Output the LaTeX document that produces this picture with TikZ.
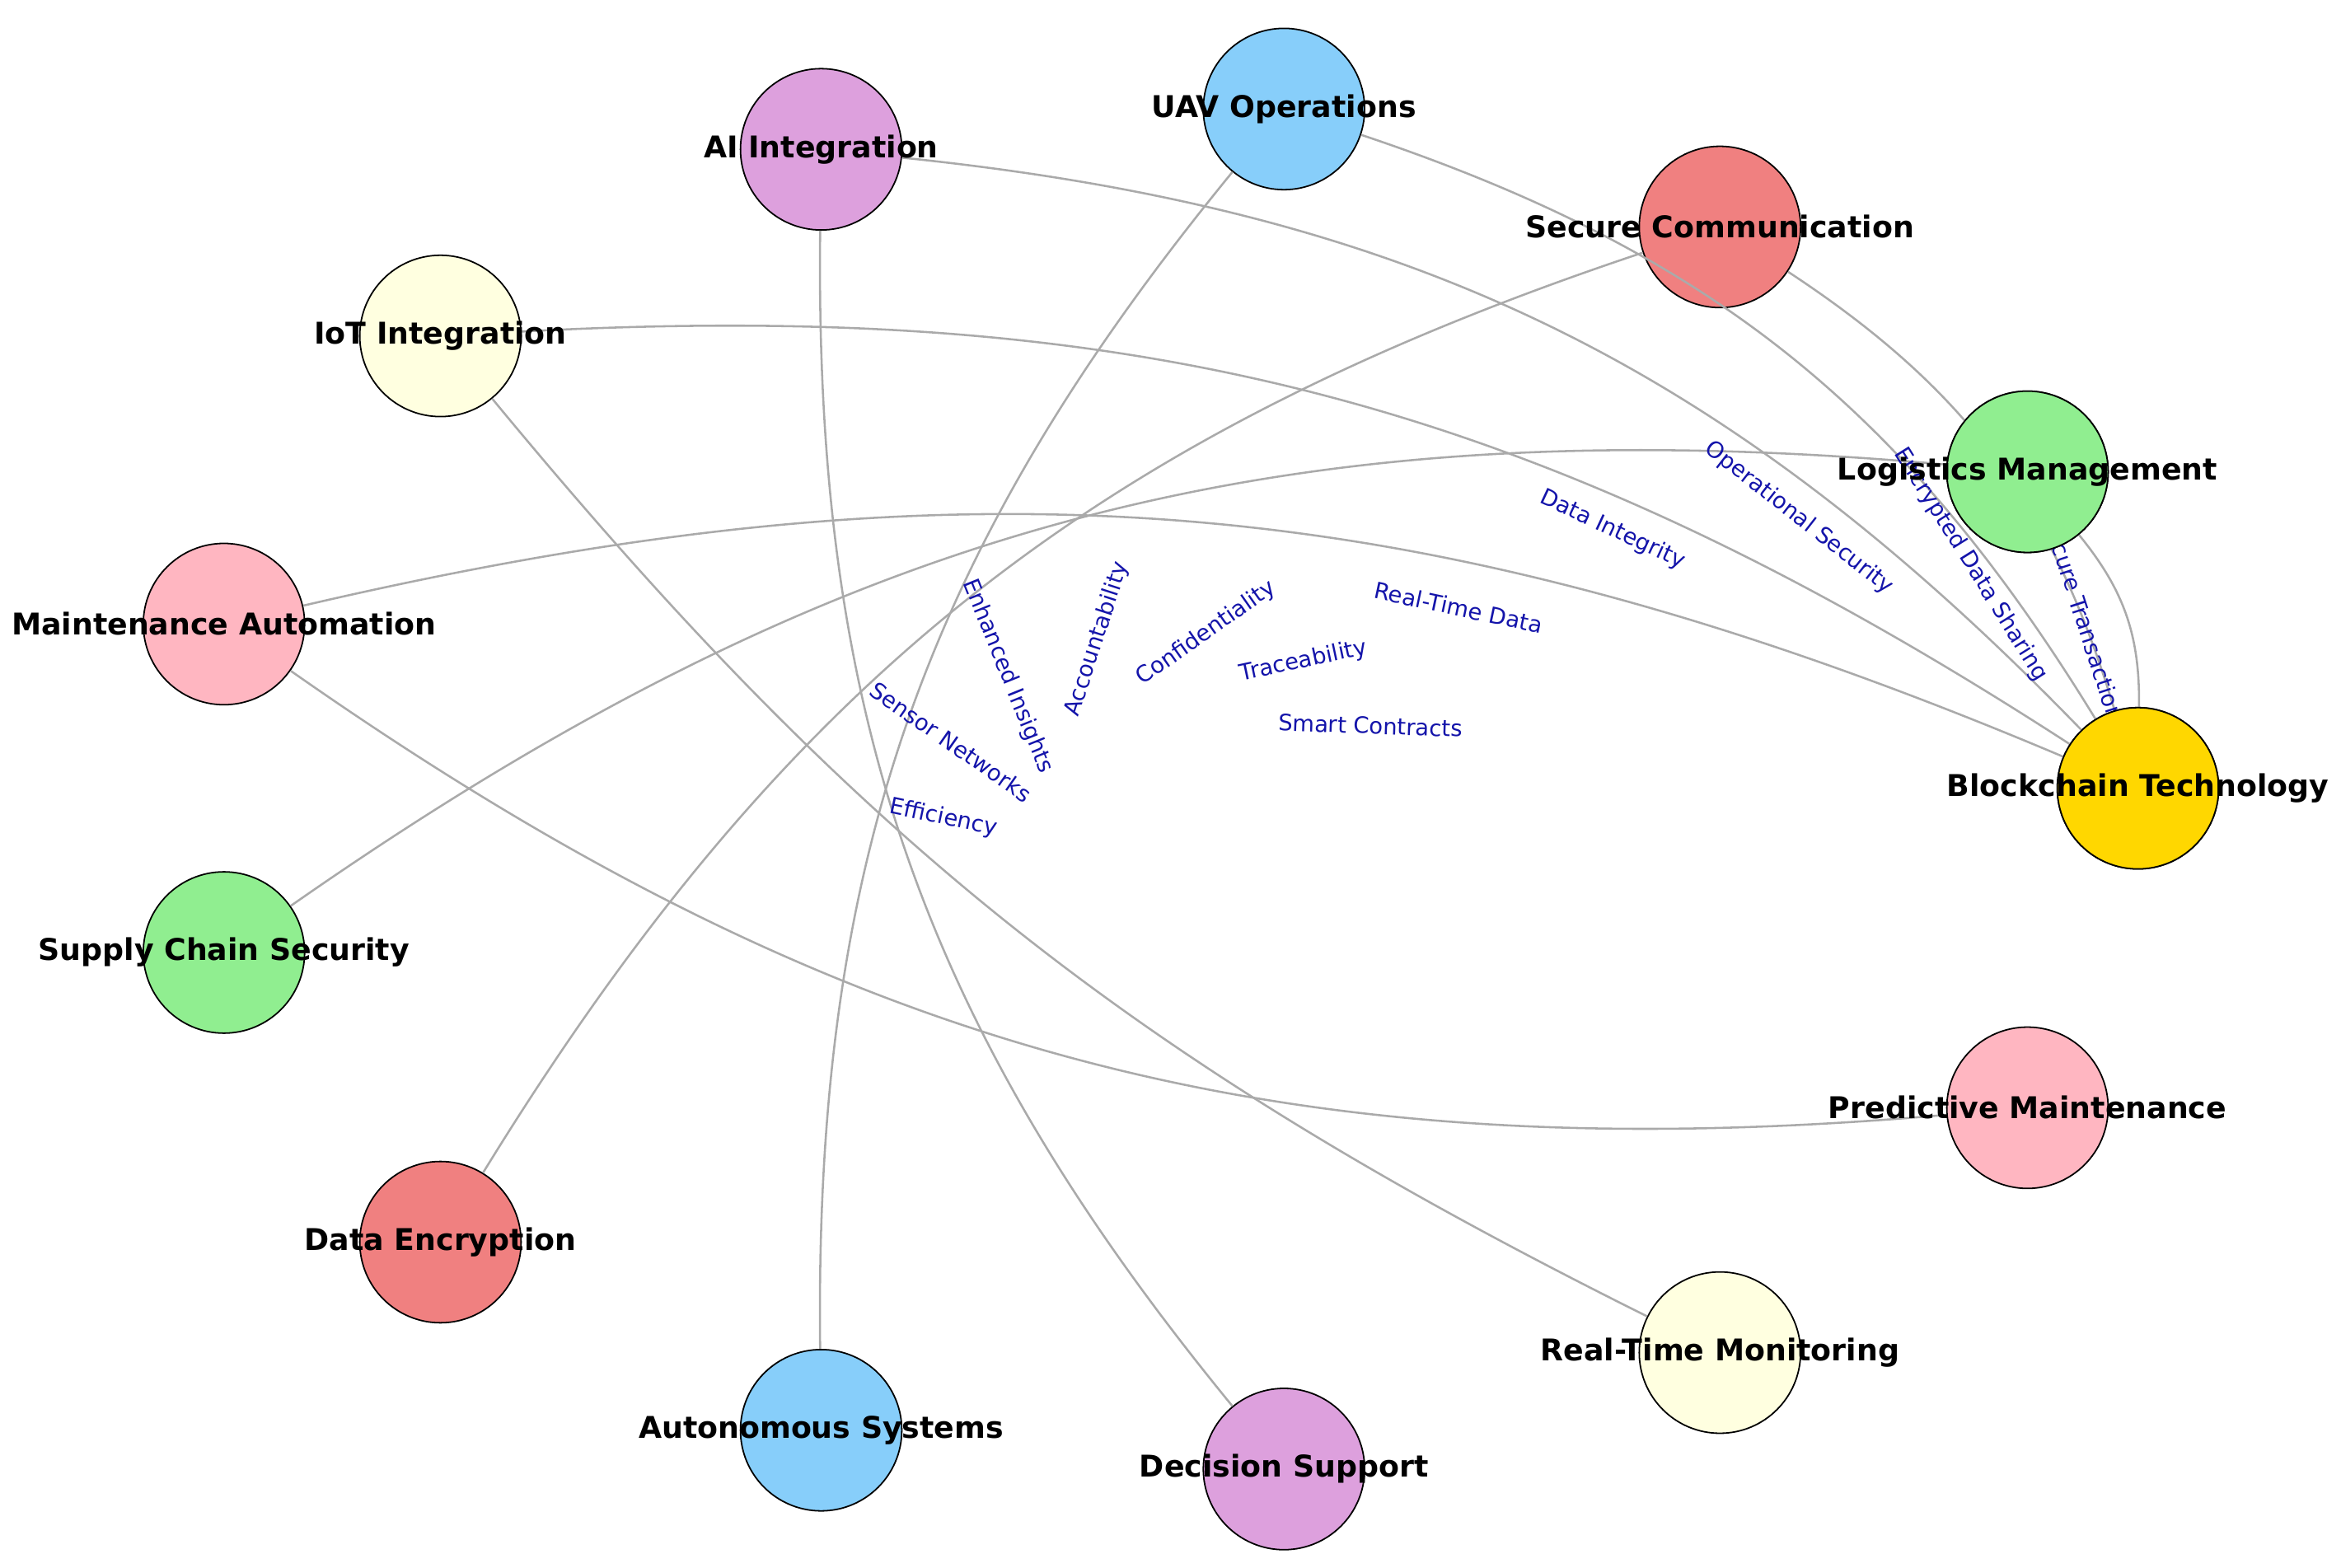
\documentclass[tikz,border=0pt]{standalone}
\usepackage{fontspec}
\setmainfont{DejaVu Sans}
\begin{document}
\begin{tikzpicture}[x=0.01cm,y=-0.01cm,
  nd/.style={circle,draw=black,line width=0.28pt,minimum size=1.08cm,inner sep=0pt},
  nt/.style={font=\fontsize{5.7}{6.5}\selectfont\bfseries,inner sep=0pt},
  ed/.style={draw={rgb,255:red,170;green,170;blue,170},line width=0.4pt},
  lb/.style={text={rgb,255:red,20;green,20;blue,170},font=\fontsize{4.3}{5}\selectfont,inner sep=0pt}]
\useasboundingbox (0,0) rectangle (1568,1050);
\definecolor{plum}{RGB}{221,160,221}
\definecolor{sky}{RGB}{135,206,250}
\definecolor{coral}{RGB}{240,128,128}
\definecolor{lyel}{RGB}{255,255,224}
\definecolor{lgreen}{RGB}{144,238,144}
\definecolor{lpink}{RGB}{255,182,193}
\definecolor{gold}{RGB}{255,215,0}
\node[nd,fill=plum] (ai) at (550,100) {};
\node[nd,fill=sky] (uav) at (860,73) {};
\node[nd,fill=coral] (sc) at (1152,152) {};
\node[nd,fill=lyel] (iot) at (295,225) {};
\node[nd,fill=lgreen] (log) at (1358,316) {};
\node[nd,fill=lpink] (ma) at (150,418) {};
\node[nd,fill=gold] (bc) at (1432,528) {};
\node[nd,fill=lgreen] (scs) at (150,638) {};
\node[nd,fill=lpink] (pm) at (1358,742) {};
\node[nd,fill=coral] (de) at (295,832) {};
\node[nd,fill=lyel] (rtm) at (1152,906) {};
\node[nd,fill=sky] (as) at (550,958) {};
\node[nd,fill=plum] (ds) at (860,984) {};
\draw[ed] (ai) to[bend left=20] (bc);
\draw[ed] (uav) to[bend left=20] (bc);
\draw[ed] (sc) to[bend left=20] (bc);
\draw[ed] (log) to[bend left=20] (bc);
\draw[ed] (iot) to[bend left=18] (bc);
\draw[ed] (ma) to[bend left=18] (bc);
\draw[ed] (scs) to[bend left=20] (log);
\draw[ed] (de) to[bend left=20] (sc);
\draw[ed] (as) to[bend left=20] (uav);
\draw[ed] (ds) to[bend left=20] (ai);
\draw[ed] (rtm) to[bend left=12] (iot);
\draw[ed] (pm) to[bend left=20] (ma);
\node[lb,rotate=-72] (l1) at (1397,418) {Secure Transactions};
\node[lb,rotate=-58] (l2) at (1320,378) {Encrypted Data Sharing};
\node[lb,rotate=-38] (l3) at (1205,347) {Operational Security};
\node[lb,rotate=-25] (l4) at (1080,355) {Data Integrity};
\node[lb,rotate=-12] (l5) at (977,407) {Real-Time Data};
\node[lb,rotate=-2] (l6) at (918,486) {Smart Contracts};
\node[lb,rotate=12] (l7) at (873,443) {Traceability};
\node[lb,rotate=35] (l8) at (808,424) {Confidentiality};
\node[lb,rotate=72] (l9) at (735,428) {Accountability};
\node[lb,rotate=-68] (l10) at (675,453) {Enhanced Insights};
\node[lb,rotate=-35] (l11) at (637,497) {Sensor Networks};
\node[lb,rotate=-12] (l12) at (632,548) {Efficiency};
\node[nd,fill=gold] (bc2) at (1432,528) {};
\node[nd,fill=lgreen] (log2) at (1358,316) {};
\foreach \p/\t in {ai/AI Integration,uav/UAV Operations,sc/Secure Communication,iot/IoT Integration,log/Logistics Management,ma/Maintenance Automation,bc/Blockchain Technology,scs/Supply Chain Security,pm/Predictive Maintenance,de/Data Encryption,rtm/Real-Time Monitoring,as/Autonomous Systems,ds/Decision Support}
  \node[nt] at (\p) {\t};
\end{tikzpicture}
\end{document}
